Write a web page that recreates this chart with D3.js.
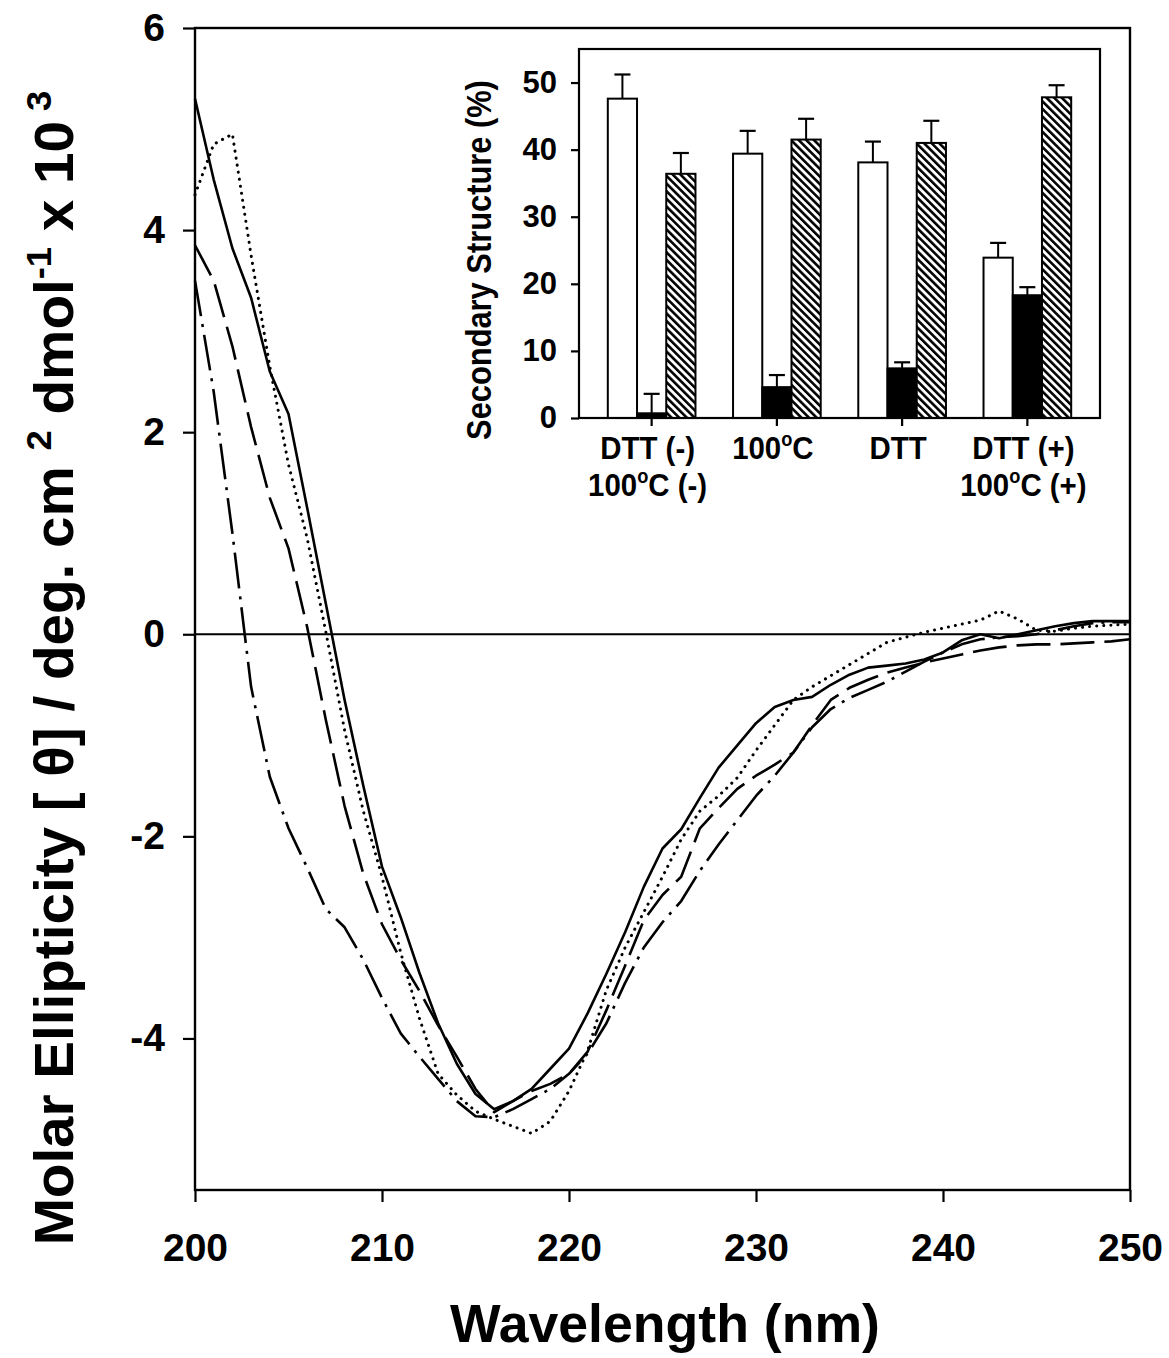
<!DOCTYPE html>
<html>
<head>
<meta charset="utf-8">
<script src="https://cdnjs.cloudflare.com/ajax/libs/d3/7.8.5/d3.min.js"></script>
<style>
	body { margin: 0; background: #fff; }
	text { font-family: "Liberation Sans", Arial, sans-serif; font-weight: bold; fill: #000; }
</style>
</head>
<body>
<svg id="chart"></svg>
<script>
//CD spectra, molar ellipticity x 10^3 read at 1 nm steps
var wavelengths = [200, 201, 202, 203, 204, 205, 206, 207, 208, 209,
	210, 211, 212, 213, 214, 215, 216, 217, 218, 219,
	220, 221, 222, 223, 224, 225, 226, 227, 228, 229,
	230, 231, 232, 233, 234, 235, 236, 237, 238, 239,
	240, 241, 242, 243, 244, 245, 246, 247, 248, 249, 250];
var solidTrace = [5.3, 4.5, 3.82, 3.33, 2.6, 2.18, 1.25, 0.3, -0.65, -1.5,
	-2.3, -2.8, -3.35, -3.85, -4.25, -4.55, -4.7, -4.62, -4.5, -4.3,
	-4.1, -3.75, -3.36, -2.95, -2.5, -2.12, -1.93, -1.62, -1.32, -1.1,
	-0.88, -0.72, -0.65, -0.62, -0.5, -0.4, -0.33, -0.31, -0.29, -0.25,
	-0.18, -0.06, 0.0, -0.04, 0.0, 0.04, 0.08, 0.11, 0.13, 0.13, 0.13];
var dottedTrace = [4.35, 4.85, 4.95, 3.75, 2.65, 1.68, 0.95, 0.02, -0.95, -1.75,
	-2.4, -3.15, -3.8, -4.35, -4.56, -4.72, -4.8, -4.87, -4.94, -4.82,
	-4.52, -4.12, -3.52, -3.1, -2.75, -2.4, -2.03, -1.75, -1.6, -1.42,
	-1.15, -0.9, -0.65, -0.52, -0.41, -0.3, -0.19, -0.08, -0.03, 0.02,
	0.06, 0.1, 0.14, 0.23, 0.15, 0.04, 0.03, 0.06, 0.08, 0.09, 0.1];
var dashedTrace = [3.85, 3.5, 2.85, 2.05, 1.35, 0.85, 0.07, -0.85, -1.7, -2.37,
	-2.87, -3.22, -3.53, -3.87, -4.18, -4.5, -4.73, -4.62, -4.52, -4.45,
	-4.35, -4.13, -3.72, -3.28, -2.83, -2.58, -2.4, -1.92, -1.72, -1.53,
	-1.4, -1.29, -1.17, -0.9, -0.65, -0.53, -0.45, -0.38, -0.33, -0.28,
	-0.24, -0.2, -0.16, -0.13, -0.11, -0.1, -0.1, -0.09, -0.08, -0.07, -0.05];
var dashDotTrace = [3.5, 2.4, 1.0, -0.52, -1.41, -1.92, -2.31, -2.72, -2.9, -3.22,
	-3.6, -3.95, -4.18, -4.4, -4.62, -4.77, -4.78, -4.7, -4.6, -4.5,
	-4.35, -4.15, -3.85, -3.45, -3.1, -2.85, -2.64, -2.34, -2.08, -1.84,
	-1.6, -1.4, -1.17, -0.92, -0.74, -0.63, -0.55, -0.47, -0.37, -0.27,
	-0.18, -0.1, -0.05, -0.03, -0.02, 0.0, 0.04, 0.08, 0.11, 0.12, 0.12];
var xTicks = [200, 210, 220, 230, 240, 250];
var yTicks = [-4, -2, 0, 2, 4, 6];

//Inset: secondary structure (%) per treatment
var insetLine1 = ["DTT (-)", "100°C", "DTT", "DTT (+)"];
var insetLine2 = ["100°C (-)", "", "", "100°C (+)"];
var openPct = [47.6, 39.4, 38.1, 23.9];
var openErr = [3.6, 3.4, 3.1, 2.2];
var filledPct = [0.7, 4.6, 7.4, 18.3];
var filledErr = [2.9, 1.8, 0.9, 1.2];
var hatchedPct = [36.4, 41.5, 41.0, 47.8];
var hatchedErr = [3.1, 3.1, 3.3, 1.8];
var insetTicks = [0, 10, 20, 30, 40, 50];

(function(){

	//SVG Configurations
	var svgWidth = 1169;
	var svgHeight = 1358;
	var plot = {left: 195, right: 1130, top: 28, bottom: 1190};
	var inset = {left: 579, right: 1100, top: 49, bottom: 418};

	var svg = d3.select("#chart")
	.attr("width", svgWidth)
	.attr("height", svgHeight)
	.style("background", "#fff");

	var x = d3.scaleLinear().domain([200, 250]).range([plot.left, plot.right]);
	var y = d3.scaleLinear().domain([-5.5, 6]).range([plot.bottom, plot.top]);

	var defs = svg.append("defs");
	var hatch = defs.append("pattern")
	.attr("id", "hatch")
	.attr("patternUnits", "userSpaceOnUse")
	.attr("width", 5.4)
	.attr("height", 5.4)
	.attr("patternTransform", "rotate(-45)");
	hatch.append("rect").attr("width", 5.4).attr("height", 5.4).attr("fill", "#fff");
	hatch.append("line")
	.attr("x1", 1.3).attr("y1", -1).attr("x2", 1.3).attr("y2", 7)
	.attr("stroke", "#000").attr("stroke-width", 2.6);

	drawMainAxes();
	drawTraces();
	drawInset();
	drawTitles();

	function drawMainAxes(){
		svg.append("g")
		.attr("transform", "translate(" + plot.left + ",0)")
		.call(d3.axisLeft(y).tickValues(yTicks).tickSize(12).tickPadding(18)
			.tickFormat(function(d){ return String(d); }))
		.call(styleAxis, 39);

		svg.append("g")
		.attr("transform", "translate(0," + plot.bottom + ")")
		.call(d3.axisBottom(x).tickValues(xTicks).tickSize(12).tickPadding(31)
			.tickFormat(function(d){ return String(d); }))
		.call(styleAxis, 39);

		//zero line
		svg.append("line")
		.attr("x1", plot.left).attr("x2", plot.right)
		.attr("y1", y(0)).attr("y2", y(0))
		.attr("stroke", "#000").attr("stroke-width", 2.2);

		svg.append("rect")
		.attr("x", plot.left).attr("y", plot.top)
		.attr("width", plot.right - plot.left)
		.attr("height", plot.bottom - plot.top)
		.attr("fill", "none")
		.attr("stroke", "#000")
		.attr("stroke-width", 2.4);
	}

	function styleAxis(g, fontSize){
		g.select(".domain").remove();
		g.selectAll(".tick line").attr("stroke", "#000").attr("stroke-width", 2.2);
		g.selectAll(".tick text")
		.attr("font-family", null)
		.attr("font-size", fontSize + "px");
	}

	function drawTraces(){
		var traces = [
			{values: solidTrace, dash: null, cap: "butt", width: 2.6},
			{values: dottedTrace, dash: "0.1,7", cap: "round", width: 3},
			{values: dashedTrace, dash: "34,10", cap: "butt", width: 2.6},
			{values: dashDotTrace, dash: "36,8,3,8", cap: "butt", width: 2.6}
		];
		var line = d3.line()
		.x(function(d, i){ return x(wavelengths[i]); })
		.y(function(d){ return y(d); });

		svg.append("g").selectAll("path")
		.data(traces)
		.enter()
		.append("path")
		.attr("d", function(d){ return line(d.values); })
		.attr("fill", "none")
		.attr("stroke", "#000")
		.attr("stroke-width", function(d){ return d.width; })
		.attr("stroke-linecap", function(d){ return d.cap; })
		.attr("stroke-linejoin", "round")
		.attr("stroke-dasharray", function(d){ return d.dash; });
	}

	function drawInset(){
		var groups = insetLine1.map(function(d, i){ return i; });
		var kinds = ["open", "filled", "hatched"];
		var fills = {open: "#fff", filled: "#000", hatched: "url(#hatch)"};
		var values = {open: openPct, filled: filledPct, hatched: hatchedPct};
		var errors = {open: openErr, filled: filledErr, hatched: hatchedErr};

		var iy = d3.scaleLinear().domain([0, 55]).range([inset.bottom, inset.top]);
		var gx = d3.scaleBand().domain(groups).range([inset.left, inset.right])
		.paddingInner(0.3).paddingOuter(0.23);
		var bx = d3.scaleBand().domain(kinds).range([0, gx.bandwidth()]);

		var ig = svg.append("g").attr("id", "inset");

		ig.append("rect")
		.attr("x", inset.left).attr("y", inset.top)
		.attr("width", inset.right - inset.left)
		.attr("height", inset.bottom - inset.top)
		.attr("fill", "#fff");

		var bars = [];
		groups.forEach(function(g){
			kinds.forEach(function(k){
				bars.push({group: g, kind: k, value: values[k][g], err: errors[k][g]});
			});
		});

		var bar = ig.selectAll(".bar")
		.data(bars)
		.enter()
		.append("g")
		.classed("bar", true);

		//error bars (upper only)
		bar.append("line")
		.attr("x1", function(d){ return gx(d.group) + bx(d.kind) + bx.bandwidth() / 2; })
		.attr("x2", function(d){ return gx(d.group) + bx(d.kind) + bx.bandwidth() / 2; })
		.attr("y1", function(d){ return iy(d.value); })
		.attr("y2", function(d){ return iy(d.value + d.err); })
		.attr("stroke", "#000").attr("stroke-width", 2);
		bar.append("line")
		.attr("x1", function(d){ return gx(d.group) + bx(d.kind) + bx.bandwidth() / 2 - 8; })
		.attr("x2", function(d){ return gx(d.group) + bx(d.kind) + bx.bandwidth() / 2 + 8; })
		.attr("y1", function(d){ return iy(d.value + d.err); })
		.attr("y2", function(d){ return iy(d.value + d.err); })
		.attr("stroke", "#000").attr("stroke-width", 2.2);

		bar.append("rect")
		.attr("x", function(d){ return gx(d.group) + bx(d.kind); })
		.attr("y", function(d){ return iy(d.value); })
		.attr("width", bx.bandwidth())
		.attr("height", function(d){ return iy(0) - iy(d.value); })
		.attr("fill", function(d){ return fills[d.kind]; })
		.attr("stroke", "#000")
		.attr("stroke-width", 2);

		//axes
		ig.append("g")
		.attr("transform", "translate(" + inset.left + ",0)")
		.call(d3.axisLeft(iy).tickValues(insetTicks).tickSize(8).tickPadding(14)
			.tickFormat(function(d){ return String(d); }))
		.call(styleAxis, 31);

		var bottomAxis = ig.append("g")
		.attr("transform", "translate(0," + inset.bottom + ")")
		.call(d3.axisBottom(gx).tickSize(8).tickFormat(""))
		.call(styleAxis, 29);
		bottomAxis.selectAll(".tick text").remove();

		ig.append("rect")
		.attr("x", inset.left).attr("y", inset.top)
		.attr("width", inset.right - inset.left)
		.attr("height", inset.bottom - inset.top)
		.attr("fill", "none")
		.attr("stroke", "#000")
		.attr("stroke-width", 2.2);

		//category labels
		groups.forEach(function(g){
			var cx = gx(g) + gx.bandwidth() / 2 - 4;
			[insetLine1[g], insetLine2[g]].forEach(function(str, row){
				if(!str) return;
				var t = ig.append("text")
				.attr("text-anchor", "middle")
				.attr("font-size", "32px")
				.attr("transform", "translate(" + cx + "," + (459 + row * 37) + ") scale(0.92,1)");
				addDegreeText(t, str, 32);
			});
		});

		//inset title
		var it = ig.append("text")
		.attr("text-anchor", "middle")
		.attr("font-size", "35px")
		.text("Secondary Structure (%)");
		fitLength(it, 360, "translate(491,260) rotate(-90)");
	}

	//writes a string, drawing the degree sign as a raised small "o"
	function addDegreeText(t, str, fontSize){
		var parts = str.split("°");
		parts.forEach(function(p, i){
			if(i > 0){
				t.append("tspan")
				.attr("font-size", (fontSize * 0.62) + "px")
				.attr("dy", -fontSize * 0.42)
				.text("o");
				t.append("tspan").attr("dy", fontSize * 0.42).text(p);
			} else {
				t.append("tspan").text(p);
			}
		});
	}

	function drawTitles(){
		var fs = 56, sup = 36, rise = 22;
		var yt = svg.append("text")
		.attr("text-anchor", "middle")
		.attr("font-size", fs + "px");
		yt.append("tspan").text("Molar Ellipticity [ \u03b8] / deg. cm ");
		yt.append("tspan").attr("font-size", sup + "px").attr("dy", -rise).text("2");
		yt.append("tspan").attr("dy", rise).text(" dmol");
		yt.append("tspan").attr("font-size", sup + "px").attr("dy", -rise).text("-1");
		yt.append("tspan").attr("dy", rise).text(" x 10");
		yt.append("tspan").attr("font-size", sup + "px").attr("dy", -rise).text(" 3");
		fitLength(yt, 1155, "translate(73,668) rotate(-90)");

		var xt = svg.append("text")
		.attr("text-anchor", "middle")
		.attr("font-size", "53px")
		.text("Wavelength (nm)");
		fitLength(xt, 430, "translate(665,1342)");
	}

	//squeezes a text along its own direction so it spans the given length
	function fitLength(t, target, base){
		var len = t.node().getComputedTextLength();
		var sx = len > 0 ? target / len : 1;
		t.attr("transform", base + " scale(" + sx + ",1)");
	}

})();
</script>
</body>
</html>
